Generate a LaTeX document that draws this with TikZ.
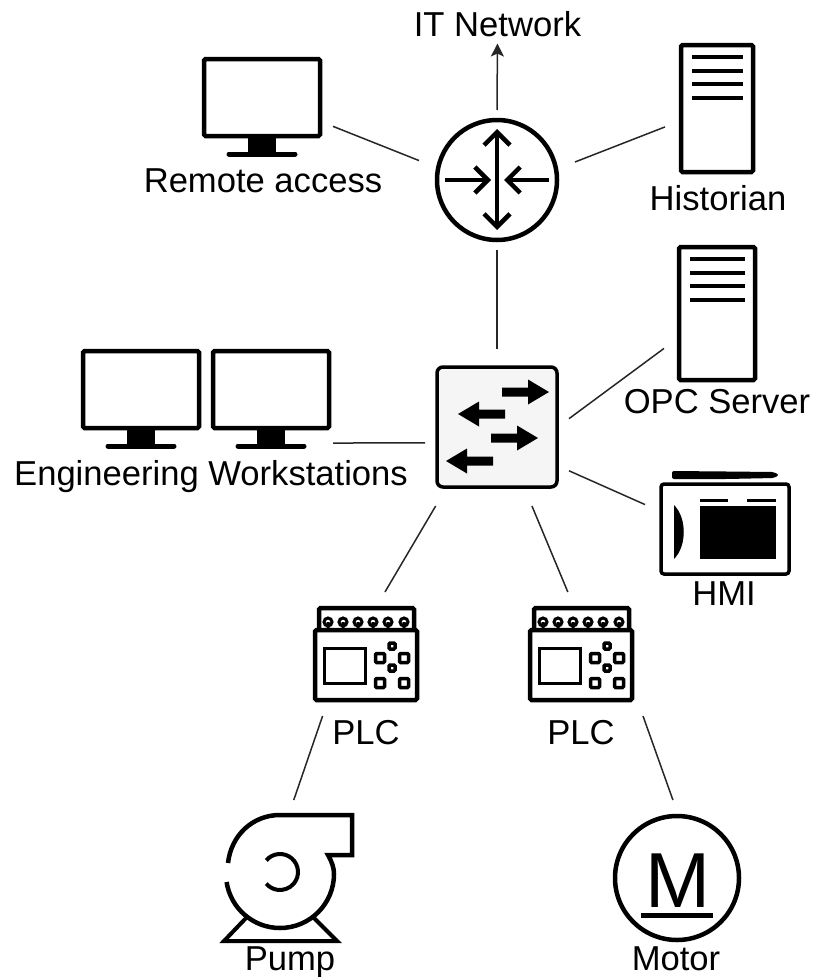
\documentclass[tikz,border=0pt]{standalone}
\usepackage{fontspec}
\setmainfont{Liberation Sans}
\usetikzlibrary{arrows.meta}

\newcommand{\monitoricon}[2]{
	\begin{scope}[shift={(#1,-#2)}]
		\draw[icon] (0,0) rectangle (116,-77);
		\fill (44,-77) rectangle (72,-93);
		\draw[line width=5pt,line cap=round] (25,-95) -- (91,-95);
	\end{scope}}
\newcommand{\servericon}[4]{
	\begin{scope}[shift={(#1,-#2)}]
		\draw[icon] (0,0) rectangle (#3,-#4);
		\foreach \ly in {12,26,39,53}
		\draw[line width=4.5pt] (11,-\ly) -- (#3-10,-\ly);
	\end{scope}}
\newcommand{\plcicon}[1]{
	\begin{scope}[shift={(#1,0)}]
		\draw[icon] (2,-630) rectangle (104,-700);
		\draw[icon] (6,-630) -- (6,-608) -- (101,-608) -- (101,-630);
		\foreach \tx in {15,30,45,60,75,91}
		\draw[line width=3pt] (\tx,-630) -- (\tx,-622) circle[radius=4pt];
		\draw[line width=3pt] (11,-648) rectangle (52,-683);
		\foreach \bx/\by/\bs in {79/646/3,79/668/3,67/658/4.5,91/658/4.5,67/683/4.5,91/683/4.5}
		\draw[line width=3.5pt,rounded corners=1pt] (\bx-\bs,-\by-\bs) rectangle (\bx+\bs,-\by+\bs);
	\end{scope}}

\begin{document}
\begin{tikzpicture}
	[x=1pt,y=1pt,
	icon/.style={line width=4.5pt,rounded corners=1.5pt},
	hit/.style={inner sep=0pt,outer sep=0pt,rectangle},
	lbl/.style={anchor=base,inner sep=0pt,font=\fontsize{34.6}{40}\selectfont},
	link/.style={line width=1.5pt,black!85},
	barb/.style={line width=4.5pt,{Straight Barb[length=13pt,width=26pt]}-}]
	\useasboundingbox (0,0) rectangle (814,-977);

	\node[hit,minimum width=156pt,minimum height=140pt] (router) at (497,-180) {};
	\node[hit,minimum width=144pt,minimum height=157pt] (switch) at (497,-427.5) {};
	\node[hit,minimum width=142pt,minimum height=100pt] (remote) at (262,-106) {};
	\node[hit,minimum width=104pt,minimum height=130pt] (historian) at (717,-108) {};
	\node[hit,minimum width=106pt,minimum height=134pt] (opc) at (717,-314) {};
	\node[hit,minimum width=124pt,minimum height=134pt] (eng) at (271,-398) {};
	\node[hit,minimum width=160pt,minimum height=90pt] (hmi) at (725,-529) {};
	\node[hit,minimum width=110pt,minimum height=124pt] (plca) at (366,-654) {};
	\node[hit,minimum width=130pt,minimum height=124pt] (plcb) at (581,-654) {};
	\node[hit,minimum width=120pt,minimum height=156pt] (pump) at (280,-878) {};
	\node[hit,minimum width=120pt,minimum height=156pt] (motor) at (677,-878) {};

	\node[lbl] (itlbl) at (497.5,-36) {IT Network};
	\node[lbl] (remotelbl) at (263,-192) {Remote access};
	\node[lbl] (historianlbl) at (718,-210) {Historian};
	\node[lbl] (opclbl) at (717,-413) {OPC Server};
	\node[lbl] (englbl) at (211,-485) {Engineering Workstations};
	\node[lbl] (hmilbl) at (724,-605) {HMI};
	\node[lbl] (plcalbl) at (366,-744) {PLC};
	\node[lbl] (plcblbl) at (581,-744) {PLC};
	\node[lbl] (pumplbl) at (290,-970) {Pump};
	\node[lbl] (motorlbl) at (676,-970) {Motor};

	\foreach \from/\to in
	{router.166.3/remote.-16.5, router.13/historian.200, router.south/switch.north,
		switch.7.5/opc.213.4, switch.192.9/eng.-36, switch.-31.7/hmi.163.3,
		switch.232.6/plca.73.8, switch.-66/plcb.102.7,
		plca.235.9/pump.80.5, plcb.-45.5/motor.93.7}
	\draw[link] (\from) -- (\to);
	\draw[link,-{Stealth[length=13pt,width=13pt,inset=3pt]},shorten >=7pt] (router.north) -- (itlbl.south);

	% router
	\draw[line width=4.5pt] (497,-180) circle[radius=60pt];
	\draw[barb] (491,-180) -- (445,-180);
	\draw[barb] (504,-180) -- (549,-180);
	\draw[line width=4.5pt,{Straight Barb[length=13pt,width=26pt]}-{Straight Barb[length=13pt,width=26pt]}] (497,-129) -- (497,-230);

	% switch
	\draw[line width=3.5pt,rounded corners=6pt,fill=black!4] (437,-367) rectangle (557,-487);
	\foreach \tx/\ty/\dir in {549/392/1,458/414/-1,538/438/1,446/461/-1}
	\fill[shift={(\tx,-\ty)},xscale=\dir] (0,0) -- (-21,12.5) -- (-21,4.5) -- (-47,4.5)
		-- (-47,-4.5) -- (-21,-4.5) -- (-21,-12.5) -- cycle;

	\monitoricon{204}{59}
	\monitoricon{83}{351}
	\monitoricon{213}{351}
	\servericon{681}{45}{72}{127}
	\servericon{679}{247}{76}{133}
	\plcicon{313}
	\plcicon{528}

	% hmi
	\draw[line width=3.5pt,rounded corners=3pt] (661,-484) rectangle (789,-574);
	\fill[rounded corners=2pt] (672,-471) -- (727,-471.5) -- (774,-472) -- (779,-475) -- (774,-478) -- (727,-479) -- (672,-479) -- cycle;
	\fill (700,-506) rectangle (776,-559);
	\fill (700,-498.5) rectangle (728,-501.5);
	\fill (747,-498.5) rectangle (776,-501.5);
	\fill (674,-505) .. controls (687,-518) and (687,-546) .. (674,-559) -- cycle;

	% pump
	\draw[line width=4.5pt] (228,-863) .. controls (231,-836) and (252,-815) .. (280,-815) -- (352,-815) -- (352,-855) -- (328,-855)
		.. controls (332,-862) and (334,-868) .. (334,-874) arc[start angle=0,end angle=-171.5,radius=54pt];
	\draw[line width=4pt] (280,-872) ++(140:18pt) arc[start angle=140,end angle=-140,radius=18pt];
	\draw[line width=4pt] (247,-917) -- (224,-941) -- (337,-941) -- (313,-917);

	% motor
	\draw[line width=4.5pt] (677,-878) circle[radius=62pt];
	\node[inner sep=0pt,anchor=base,font=\fontsize{78}{80}\selectfont] (motorm) at (678,-907) {M};
	\draw[line width=5pt] (641,-915) -- (713,-915);
\end{tikzpicture}
\end{document}
